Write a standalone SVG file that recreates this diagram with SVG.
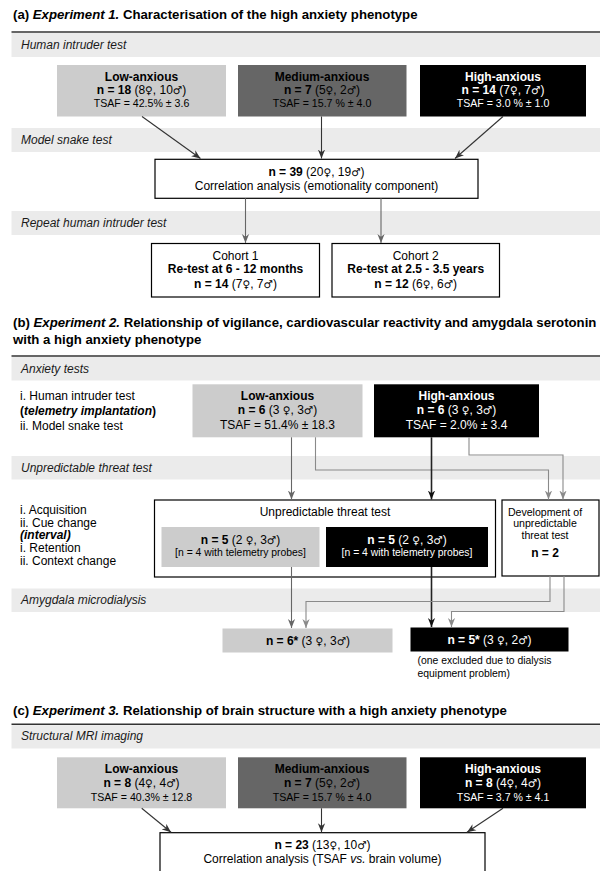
<svg xmlns="http://www.w3.org/2000/svg" width="600" height="871" viewBox="0 0 600 871">
<defs>
<style>
.ttl{font-family:"Liberation Sans",Arial,sans-serif;font-size:13.2px;font-weight:bold;fill:#000}
.band{fill:#ebebeb}
.btxt{font-family:"Liberation Sans",Arial,sans-serif;font-size:12px;font-style:italic;fill:#1a1a1a}
.t{font-family:"Liberation Sans",Arial,sans-serif;font-size:12px;fill:#000}
.s{font-family:"Liberation Sans",Arial,sans-serif;font-size:10.6px;fill:#000}
.xs{font-family:"Liberation Sans",Arial,sans-serif;font-size:10.4px;fill:#000}
.g{font-family:"DejaVu Sans",sans-serif;font-size:10.5px;font-weight:normal}
.c{text-anchor:middle}
.b{font-weight:bold}
.w{fill:#fff}
.low{fill:#cccccc}
.med{fill:#666666}
.high{fill:#000}
.box{fill:#fff;stroke:#000;stroke-width:1.2}
.hr{stroke:#333;stroke-width:1.5}
.ad{fill:none;stroke:#333;stroke-width:1.1}
.ag{fill:none;stroke:#666;stroke-width:1.1}
.al{fill:none;stroke:#8a8a8a;stroke-width:1.1}
.ak{fill:none;stroke:#222;stroke-width:1.6}
</style>
<marker id="mD" viewBox="0 0 10 10" refX="10" refY="5" markerWidth="9" markerHeight="9" markerUnits="userSpaceOnUse" orient="auto"><path d="M0,1 L10,5 L0,9 L3,5 z" fill="#333"/></marker>
<marker id="mG" viewBox="0 0 10 10" refX="10" refY="5" markerWidth="9" markerHeight="9" markerUnits="userSpaceOnUse" orient="auto"><path d="M0,1 L10,5 L0,9 L3,5 z" fill="#666"/></marker>
<marker id="mL" viewBox="0 0 10 10" refX="10" refY="5" markerWidth="9" markerHeight="9" markerUnits="userSpaceOnUse" orient="auto"><path d="M0,1 L10,5 L0,9 L3,5 z" fill="#8a8a8a"/></marker>
<marker id="mK" viewBox="0 0 10 10" refX="10" refY="5" markerWidth="9" markerHeight="9" markerUnits="userSpaceOnUse" orient="auto"><path d="M0,1 L10,5 L0,9 L3,5 z" fill="#111"/></marker>
</defs>
<rect width="600" height="871" fill="#fff"/>

<!-- Section a -->
<g id="section-a">
<text class="ttl" x="13" y="18.5">(a) <tspan font-style="italic">Experiment 1.</tspan> Characterisation of the high anxiety phenotype</text>
<line class="hr" x1="11.5" y1="32" x2="600" y2="32"/>
<rect class="band" x="11.5" y="33" width="588.5" height="24"/>
<text class="btxt" x="21" y="49.3">Human intruder test</text>
<rect class="band" x="11.5" y="128" width="588.5" height="24"/>
<text class="btxt" x="21" y="144">Model snake test</text>
<rect class="band" x="11.5" y="211" width="588.5" height="24"/>
<text class="btxt" x="21" y="227">Repeat human intruder test</text>
</g>

<g id="a-low">
<rect class="low" x="57" y="65" width="169" height="51.5"/>
<text class="t c b" x="141.5" y="80.5">Low-anxious</text>
<text class="t c" x="141.5" y="94"><tspan class="b">n = 18</tspan> (8<tspan class="g">♀</tspan>, 10<tspan class="g">♂</tspan>)</text>
<text class="s c" x="141.5" y="106.5">TSAF = 42.5% ± 3.6</text>
</g>
<g id="a-medium">
<rect class="med" x="238" y="65" width="168.5" height="51.5"/>
<text class="t c b" x="322" y="80.5">Medium-anxious</text>
<text class="t c" x="322" y="94"><tspan class="b">n = 7</tspan> (5<tspan class="g">♀</tspan>, 2<tspan class="g">♂</tspan>)</text>
<text class="s c" x="322" y="106.5">TSAF = 15.7 % ± 4.0</text>
</g>
<g id="a-high">
<rect class="high" x="420" y="65" width="166" height="51.5"/>
<text class="t c b w" x="503" y="80.5">High-anxious</text>
<text class="t c w" x="503" y="94"><tspan class="b">n = 14</tspan> (7<tspan class="g">♀</tspan>, 7<tspan class="g">♂</tspan>)</text>
<text class="s c w" x="503" y="106.5">TSAF = 3.0 % ± 1.0</text>
</g>
<g id="a-corr">
<rect class="box" x="155" y="159.3" width="323" height="39"/>
<text class="t c" x="316.5" y="176"><tspan class="b">n = 39</tspan> (20<tspan class="g">♀</tspan>, 19<tspan class="g">♂</tspan>)</text>
<text class="t c" x="316.5" y="189.5">Correlation analysis (emotionality component)</text>
</g>
<g id="a-cohort1">
<rect class="box" x="151.5" y="243.5" width="168" height="53.5"/>
<text class="t c" x="235.5" y="259.5">Cohort 1</text>
<text class="t c b" x="235.5" y="273">Re-test at 6 - 12 months</text>
<text class="t c" x="235.5" y="287.5"><tspan class="b">n = 14</tspan> (7<tspan class="g">♀</tspan>, 7<tspan class="g">♂</tspan>)</text>
</g>
<g id="a-cohort2">
<rect class="box" x="332" y="243.5" width="167.5" height="53.5"/>
<text class="t c" x="415.7" y="259.5">Cohort 2</text>
<text class="t c b" x="415.7" y="273">Re-test at 2.5 - 3.5 years</text>
<text class="t c" x="415.7" y="287.5"><tspan class="b">n = 12</tspan> (6<tspan class="g">♀</tspan>, 6<tspan class="g">♂</tspan>)</text>
</g>

<!-- Section b -->
<g id="section-b">
<text class="ttl" x="13" y="327">(b) <tspan font-style="italic">Experiment 2.</tspan> Relationship of vigilance, cardiovascular reactivity and amygdala serotonin</text>
<text class="ttl" x="13" y="343.5">with a high anxiety phenotype</text>
<line class="hr" x1="11.5" y1="356" x2="600" y2="356"/>
<rect class="band" x="11.5" y="357" width="588.5" height="23.5"/>
<text class="btxt" x="21" y="372.5">Anxiety tests</text>
<text class="t" x="20" y="400">i. Human intruder test</text>
<text class="t b" x="20" y="415">(<tspan font-style="italic">telemetry implantation</tspan>)</text>
<text class="t" x="20" y="430">ii. Model snake test</text>
<rect class="band" x="11.5" y="456" width="588.5" height="23.5"/>
<text class="btxt" x="21" y="471.5">Unpredictable threat test</text>
<text class="t" x="20" y="513.5">i. Acquisition</text>
<text class="t" x="20" y="526.5">ii. Cue change</text>
<text class="t b" font-style="italic" x="20" y="539">(interval)</text>
<text class="t" x="20" y="552">i. Retention</text>
<text class="t" x="20" y="565">ii. Context change</text>
<rect class="band" x="11.5" y="588.5" width="588.5" height="23.5"/>
<text class="btxt" x="21" y="604">Amygdala microdialysis</text>
</g>

<g id="b-low">
<rect class="low" x="192.5" y="384.3" width="170" height="53"/>
<text class="t c b" x="277.5" y="400">Low-anxious</text>
<text class="t c" x="277.5" y="414"><tspan class="b">n = 6</tspan> (3 <tspan class="g">♀</tspan>, 3<tspan class="g">♂</tspan>)</text>
<text class="t c" x="277.5" y="429.3">TSAF = 51.4% ± 18.3</text>
</g>
<g id="b-high">
<rect class="high" x="374" y="384.3" width="165" height="53"/>
<text class="t c b w" x="456.5" y="400">High-anxious</text>
<text class="t c w" x="456.5" y="414"><tspan class="b">n = 6</tspan> (3 <tspan class="g">♀</tspan>, 3<tspan class="g">♂</tspan>)</text>
<text class="t c w" x="456.5" y="429.3">TSAF = 2.0% ± 3.4</text>
</g>
<g id="b-threat">
<rect class="box" x="154.5" y="500" width="341" height="77"/>
<text class="t c" x="325" y="515.5" font-size="12.8">Unpredictable threat test</text>
<rect class="low" x="161.5" y="527" width="158" height="40"/>
<text class="t c" x="240.5" y="543.5"><tspan class="b">n = 5</tspan> (2 <tspan class="g">♀</tspan>, 3<tspan class="g">♂</tspan>)</text>
<text class="xs c" x="240.5" y="556">[n = 4 with telemetry probes]</text>
<rect class="high" x="326" y="527" width="162" height="40"/>
<text class="t c w" x="407" y="543.5"><tspan class="b">n = 5</tspan> (2 <tspan class="g">♀</tspan>, 3<tspan class="g">♂</tspan>)</text>
<text class="xs c w" x="407" y="556">[n = 4 with telemetry probes]</text>
</g>
<g id="b-dev">
<rect class="box" x="502" y="500" width="97" height="76"/>
<text class="s c" x="545" y="515.5">Development of</text>
<text class="s c" x="545" y="527">unpredictable</text>
<text class="s c" x="545" y="538.5">threat test</text>
<text class="t c b" x="545" y="557">n = 2</text>
</g>
<g id="b-amy-low">
<rect class="low" x="222.5" y="628.5" width="170" height="24"/>
<text class="t c" x="308" y="645"><tspan class="b">n = 6*</tspan> (3 <tspan class="g">♀</tspan>, 3<tspan class="g">♂</tspan>)</text>
</g>
<g id="b-amy-high">
<rect class="high" x="410.5" y="627.5" width="158" height="24"/>
<text class="t c w" x="489.5" y="644"><tspan class="b">n = 5*</tspan> (3 <tspan class="g">♀</tspan>, 2<tspan class="g">♂</tspan>)</text>
</g>
<g id="b-note">
<text class="xs" x="417.5" y="663.5">(one excluded due to dialysis</text>
<text class="xs" x="417.5" y="677">equipment problem)</text>
</g>

<!-- Section c -->
<g id="section-c">
<text class="ttl" x="13" y="715">(c) <tspan font-style="italic">Experiment 3.</tspan> Relationship of brain structure with a high anxiety phenotype</text>
<line class="hr" x1="11.5" y1="724.3" x2="600" y2="724.3"/>
<rect class="band" x="11.5" y="725.2" width="588.5" height="23.3"/>
<text class="btxt" x="21" y="740">Structural MRI imaging</text>
</g>
<g id="c-low">
<rect class="low" x="57" y="757.3" width="169" height="51"/>
<text class="t c b" x="141.5" y="773.3">Low-anxious</text>
<text class="t c" x="141.5" y="787.3"><tspan class="b">n = 8</tspan> (4<tspan class="g">♀</tspan>, 4<tspan class="g">♂</tspan>)</text>
<text class="s c" x="141.5" y="800.5">TSAF = 40.3% ± 12.8</text>
</g>
<g id="c-medium">
<rect class="med" x="238" y="757.3" width="168.5" height="51"/>
<text class="t c b" x="322" y="773.3">Medium-anxious</text>
<text class="t c" x="322" y="787.3"><tspan class="b">n = 7</tspan> (5<tspan class="g">♀</tspan>, 2<tspan class="g">♂</tspan>)</text>
<text class="s c" x="322" y="800.5">TSAF = 15.7 % ± 4.0</text>
</g>
<g id="c-high">
<rect class="high" x="420" y="757.3" width="166" height="51"/>
<text class="t c b w" x="503" y="773.3">High-anxious</text>
<text class="t c w" x="503" y="787.3"><tspan class="b">n = 8</tspan> (4<tspan class="g">♀</tspan>, 4<tspan class="g">♂</tspan>)</text>
<text class="s c w" x="503" y="800.5">TSAF = 3.7 % ± 4.1</text>
</g>
<g id="c-corr">
<rect class="box" x="160" y="832.7" width="325" height="50"/>
<text class="t c" x="322.5" y="848.5"><tspan class="b">n = 23</tspan> (13<tspan class="g">♀</tspan>, 10<tspan class="g">♂</tspan>)</text>
<text class="t c" x="322.5" y="862.7">Correlation analysis (TSAF <tspan font-style="italic">vs.</tspan> brain volume)</text>
</g>

<!-- Connectors -->
<g id="connectors">
<line class="ad" x1="142" y1="116.5" x2="200.5" y2="158.5" marker-end="url(#mD)"/>
<line class="ad" x1="321.5" y1="116.5" x2="321.5" y2="158.5" marker-end="url(#mD)"/>
<line class="ad" x1="503" y1="116.5" x2="455" y2="158.5" marker-end="url(#mD)"/>
<line class="ag" x1="245.5" y1="198.3" x2="245.5" y2="243" marker-end="url(#mG)"/>
<line class="ag" x1="381" y1="198.3" x2="381" y2="243" marker-end="url(#mG)"/>

<line class="ag" x1="291.5" y1="437.3" x2="291.5" y2="499.5" marker-end="url(#mG)"/>
<polyline class="al" points="315.5,437.3 315.5,470 548.5,470 548.5,499.5" marker-end="url(#mL)"/>
<line class="ak" x1="431.5" y1="437.3" x2="431.5" y2="499.5" marker-end="url(#mK)"/>
<polyline class="al" points="469,437.3 469,455 563,455 563,499.5" marker-end="url(#mL)"/>

<line class="ag" x1="291.5" y1="567" x2="291.5" y2="628" marker-end="url(#mG)"/>
<line class="ak" x1="431.5" y1="567" x2="431.5" y2="627" marker-end="url(#mK)"/>
<polyline class="al" points="550,576 550,601.5 306,601.5 306,628" marker-end="url(#mL)"/>
<polyline class="al" points="564,576 564,611.5 451.5,611.5 451.5,627" marker-end="url(#mL)"/>

<line class="ad" x1="141.7" y1="808.3" x2="171" y2="832.3" marker-end="url(#mD)"/>
<line class="ad" x1="321.5" y1="808.3" x2="321.5" y2="832.3" marker-end="url(#mD)"/>
<line class="ad" x1="503" y1="808.3" x2="467" y2="832.3" marker-end="url(#mD)"/>
</g>
</svg>
